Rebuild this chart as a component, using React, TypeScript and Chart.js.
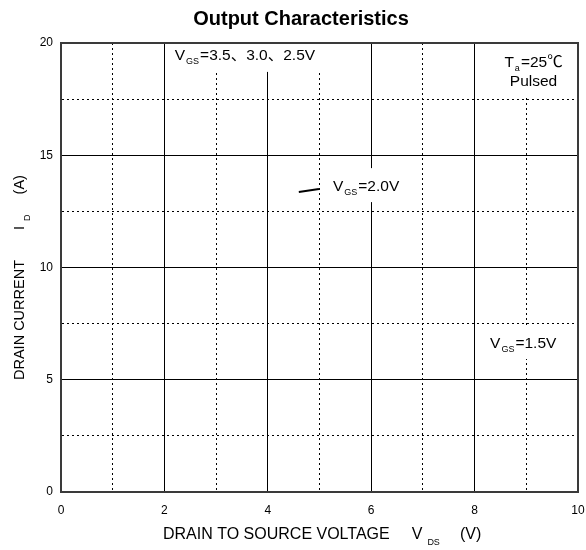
import React, { useEffect, useRef } from 'react';
import { Chart, registerables } from 'chart.js';

Chart.register(...registerables);

const FONT = '"Liberation Sans", Arial, "Noto Sans CJK SC", sans-serif';

// axes
const xRange = [0, 10];
const yRange = [0, 20];
const xStep = 1;
const yStep = 2.5;
const xLabelEvery = 2;
const yLabelEvery = 5;

// the only drawn mark: leader line of the VGS=2.0V note
const leaderX = [4.6, 4.99];
const leaderY = [13.36, 13.5];

// notes inside the plot
const noteMain = ['V', 'V', 'V', 'T'];
const noteSub = ['GS', 'GS', 'GS', 'a'];
const noteRest = ['=3.5、3.0、2.5V', '=2.0V', '=1.5V', '=25℃'];
const noteSecond = ['', '', '', 'Pulsed'];
const noteX = [2.2, 5.26, 8.3, 9.14];
const noteY = [19.47, 13.67, 6.68, 19.2];
const noteSecondY = [0, 0, 0, 18.35];
const noteAlign = ['left', 'left', 'left', 'center'];

const chartTitle = 'Output Characteristics';
const xTitle = ['DRAIN TO SOURCE VOLTAGE', 'V', 'DS', '(V)'];
const yTitle = ['DRAIN CURRENT', 'I', 'D', '(A)'];

type Piece = { t: string; s?: boolean; gap?: number };

function setFont(ctx: CanvasRenderingContext2D, size: number, bold = false) {
  ctx.font = `${bold ? 'bold ' : ''}${size}px ${FONT}`;
}

function richWidth(ctx: CanvasRenderingContext2D, pieces: Piece[], size: number, subSize: number) {
  let w = 0;
  for (const p of pieces) {
    setFont(ctx, p.s ? subSize : size);
    w += (p.gap || 0) + ctx.measureText(p.t).width;
  }
  return w;
}

function drawRich(
  ctx: CanvasRenderingContext2D,
  pieces: Piece[],
  x: number,
  baseline: number,
  size: number,
  subSize: number,
  subDrop: number
) {
  let cx = x;
  ctx.textBaseline = 'alphabetic';
  ctx.textAlign = 'left';
  for (const p of pieces) {
    cx += p.gap || 0;
    setFont(ctx, p.s ? subSize : size);
    ctx.fillText(p.t, cx, p.s ? baseline + subDrop : baseline);
    cx += ctx.measureText(p.t).width;
  }
}

const NOTE_SIZE = 15.5;
const NOTE_SUB = 9;

const annotationPlugin = {
  id: 'notes',
  afterDatasetsDraw(chart: any) {
    const { ctx, chartArea, scales } = chart;
    const xs = scales.x;
    const ys = scales.y;
    ctx.save();
    const layouts: any[] = [];
    for (let i = 0; i < noteMain.length; i++) {
      const pieces: Piece[] = [
        { t: noteMain[i] },
        { t: noteSub[i], s: true, gap: 1 },
        { t: noteRest[i], gap: 1 },
      ];
      const w = richWidth(ctx, pieces, NOTE_SIZE, NOTE_SUB);
      const px = xs.getPixelForValue(noteX[i]);
      const py = ys.getPixelForValue(noteY[i]);
      const left = noteAlign[i] === 'center' ? px - w / 2 : px;
      let boxW = w;
      let py2 = py;
      if (noteSecond[i]) {
        setFont(ctx, NOTE_SIZE);
        boxW = Math.max(w, ctx.measureText(noteSecond[i]).width);
        py2 = ys.getPixelForValue(noteSecondY[i]);
      }
      const boxLeft = noteAlign[i] === 'center' ? px - boxW / 2 : px;
      ctx.fillStyle = '#ffffff';
      ctx.fillRect(boxLeft - 8, py - 17, boxW + 16, py2 - py + 34);
      layouts.push({ pieces, left, py, px, py2 });
    }
    // frame
    ctx.strokeStyle = '#3a3a3a';
    ctx.lineWidth = 2;
    ctx.strokeRect(chartArea.left, chartArea.top, chartArea.right - chartArea.left, chartArea.bottom - chartArea.top);
    // texts
    ctx.fillStyle = '#000';
    const cap = NOTE_SIZE * 0.716;
    layouts.forEach((l, i) => {
      drawRich(ctx, l.pieces, l.left, l.py + cap / 2, NOTE_SIZE, NOTE_SUB, 4);
      if (noteSecond[i]) {
        setFont(ctx, NOTE_SIZE);
        ctx.textAlign = 'center';
        ctx.fillText(noteSecond[i], l.px, l.py2 + cap / 2);
      }
    });
    ctx.restore();
  },
  afterDraw(chart: any) {
    const { ctx } = chart;
    ctx.save();
    ctx.fillStyle = '#000';
    // chart title
    setFont(ctx, 20, true);
    ctx.textAlign = 'center';
    ctx.textBaseline = 'alphabetic';
    ctx.fillText(chartTitle, 301, 18 + 0.716 * 10);
    // x title
    const xsz = 16;
    const xPieces: Piece[] = [
      { t: xTitle[0] },
      { t: xTitle[1], gap: 22 },
      { t: xTitle[2], s: true, gap: 5 },
      { t: xTitle[3], gap: 20 },
    ];
    drawRich(ctx, xPieces, 163, 533.5 + (xsz * 0.716) / 2, xsz, 9, 6);
    // y title (rotated)
    const ysz = 14.5;
    const yPieces: Piece[] = [
      { t: yTitle[0] },
      { t: yTitle[1], gap: 30 },
      { t: yTitle[2], s: true, gap: 5 },
      { t: yTitle[3], gap: 20 },
    ];
    ctx.translate(18.5, 380);
    ctx.rotate(-Math.PI / 2);
    drawRich(ctx, yPieces, 0, (ysz * 0.716) / 2, ysz, 9, 6);
    ctx.restore();
  },
};

function isMajor(v: number, every: number) {
  return Math.abs(v / every - Math.round(v / every)) < 1e-6;
}

export default function App() {
  const ref = useRef<HTMLCanvasElement | null>(null);

  useEffect(() => {
    if (!ref.current) return;
    const chart = new Chart(ref.current, {
      type: 'line',
      data: {
        datasets: [
          {
            data: leaderX.map((x, i) => ({ x, y: leaderY[i] })),
            borderColor: '#000',
            borderWidth: 2,
            pointRadius: 0,
            fill: false,
          },
        ],
      },
      options: {
        animation: false,
        responsive: false,
        maintainAspectRatio: false,
        layout: { padding: { left: 0, right: 8, top: 43, bottom: 0 } },
        plugins: {
          legend: { display: false },
          title: { display: false },
          tooltip: { enabled: false },
        },
        scales: {
          x: {
            type: 'linear',
            min: xRange[0],
            max: xRange[1],
            afterFit: (s: any) => {
              s.height = 58;
              s.paddingLeft = 0;
              s.paddingRight = 0;
            },
            ticks: {
              stepSize: xStep,
              autoSkip: false,
              maxRotation: 0,
              padding: 11,
              color: '#000',
              font: { family: FONT, size: 12 },
              callback: (v: any) => (isMajor(Number(v), xLabelEvery) ? String(v) : ''),
            },
            grid: { color: '#000', lineWidth: 1, drawTicks: false },
            border: {
              display: true,
              color: '#3a3a3a',
              width: 2,
              dash: (c: any) => (c.tick && !isMajor(c.tick.value, xLabelEvery) ? [2, 3] : []),
            },
          },
          y: {
            type: 'linear',
            min: yRange[0],
            max: yRange[1],
            afterFit: (s: any) => {
              s.width = 61;
              s.paddingTop = 0;
              s.paddingBottom = 0;
            },
            ticks: {
              stepSize: yStep,
              autoSkip: false,
              padding: 8,
              color: '#000',
              font: { family: FONT, size: 12 },
              callback: (v: any) => (isMajor(Number(v), yLabelEvery) ? String(v) : ''),
            },
            grid: { color: '#000', lineWidth: 1, drawTicks: false },
            border: {
              display: true,
              color: '#3a3a3a',
              width: 2,
              dash: (c: any) => (c.tick && !isMajor(c.tick.value, yLabelEvery) ? [2, 3] : []),
            },
          },
        },
      } as any,
      plugins: [annotationPlugin],
    });
    return () => chart.destroy();
  }, []);

  return (
    <div style={{ position: 'absolute', left: 0, top: 0, width: 586, height: 550, background: '#fff' }}>
      <canvas ref={ref} width={586} height={550} style={{ display: 'block' }} />
    </div>
  );
}
